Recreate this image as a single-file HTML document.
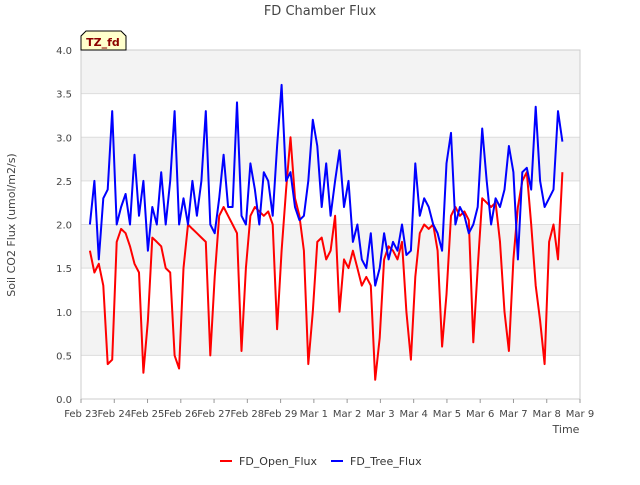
<!DOCTYPE html>
<html><head><meta charset="utf-8"><style>
body{margin:0;background:#fff;font-family:"Liberation Sans","DejaVu Sans",sans-serif;}
</style></head><body>
<svg id="chart" width="640" height="480" viewBox="0 0 640 480" style="font-family:'DejaVu Sans','Liberation Sans',sans-serif">
<text x="320" y="15" text-anchor="middle" font-size="13" fill="#444">FD Chamber Flux</text>
<g id="bands"></g><g id="grid"></g>
<rect x="81" y="50" width="499" height="349" fill="none" stroke="#ccc"/>
<g id="xaxis"></g><g id="yaxis"></g><g id="series"></g>
<text x="15" y="225" transform="rotate(-90 15 225)" text-anchor="middle" font-size="11" fill="#444">Soil CO2 Flux (umol/m2/s)</text>
<text x="566" y="433" text-anchor="middle" font-size="11" fill="#444">Time</text>
<g><path d="M81 50 L81 36 L86 31 L121 31 L126 36 L126 50 Z" fill="#ffffcc" stroke="#000"/><text x="103" y="46" text-anchor="middle" font-size="11" font-weight="bold" fill="#8b0000">TZ_fd</text></g>
<g><line x1="220" y1="461" x2="232" y2="461" stroke="#f00" stroke-width="2"/><text x="239" y="465" font-size="11" fill="#333">FD_Open_Flux</text></g>
<g><line x1="331" y1="461" x2="343" y2="461" stroke="#00f" stroke-width="2"/><text x="350" y="465" font-size="11" fill="#333">FD_Tree_Flux</text></g>
</svg>
<script>
const xTickLabels=["Feb 23","Feb 24","Feb 25","Feb 26","Feb 27","Feb 28","Feb 29","Mar 1","Mar 2","Mar 3","Mar 4","Mar 5","Mar 6","Mar 7","Mar 8","Mar 9"];
const yTickLabels=["0.0","0.5","1.0","1.5","2.0","2.5","3.0","3.5","4.0"];
const tStart=0.268, tStep=0.134;
const openFlux=[1.7,1.45,1.55,1.3,0.4,0.45,1.8,1.95, 1.9,1.75,1.55,1.45,0.3,0.9,1.85,1.8, 1.75,1.5,1.45,0.5,0.35,1.5,2.0,1.95, 1.9,1.85,1.8,0.5,1.4,2.1,2.2,2.1, 2.0,1.9,0.55,1.5,2.1,2.2,2.15,2.1, 2.15,2.0,0.8,1.7,2.4,3.0,2.3,2.1, 1.7,0.4,1.0,1.8,1.85,1.6,1.7,2.1, 1.0,1.6,1.5,1.7,1.5,1.3,1.4,1.3, 0.22,0.7,1.6,1.75,1.7,1.6,1.8,1.0, 0.45,1.4,1.9,2.0,1.95,2.0,1.7,0.6, 1.2,2.1,2.2,2.1,2.15,2.05,0.65,1.5, 2.3,2.25,2.2,2.25,1.8,1.0,0.55,1.6, 2.2,2.5,2.6,2.0,1.3,0.9,0.4,1.8, 2.0,1.6,2.6];
const treeFlux=[2.0,2.5,1.6,2.3,2.4,3.3,2.0,2.2, 2.35,2.0,2.8,2.1,2.5,1.7,2.2,2.0, 2.6,2.0,2.5,3.3,2.0,2.3,2.0,2.5, 2.1,2.5,3.3,2.0,1.9,2.3,2.8,2.2, 2.2,3.4,2.1,2.0,2.7,2.4,2.0,2.6, 2.5,2.1,2.9,3.6,2.5,2.6,2.2,2.05, 2.1,2.5,3.2,2.9,2.2,2.7,2.1,2.5, 2.85,2.2,2.5,1.8,2.0,1.6,1.5,1.9, 1.3,1.5,1.9,1.6,1.8,1.7,2.0,1.65, 1.7,2.7,2.1,2.3,2.2,2.0,1.9,1.7, 2.7,3.05,2.0,2.2,2.1,1.9,2.0,2.2, 3.1,2.5,2.0,2.3,2.2,2.4,2.9,2.6, 1.6,2.6,2.65,2.4,3.35,2.5,2.2,2.3, 2.4,3.3,2.95];
const NS="http://www.w3.org/2000/svg";
const X=t=>81+t*(499/15), Y=v=>399-v*(349/4);
function mk(tag,attrs,parent){const e=document.createElementNS(NS,tag);for(const k in attrs)e.setAttribute(k,attrs[k]);parent.appendChild(e);return e;}
const bands=document.getElementById('bands'),grid=document.getElementById('grid'),xa=document.getElementById('xaxis'),ya=document.getElementById('yaxis'),ser=document.getElementById('series');
for(let i=0;i<8;i++){ if(i%2===1){const b=mk('rect',{x:81,y:Y((i+1)*0.5),width:499,height:Y(i*0.5)-Y((i+1)*0.5),fill:'#f3f3f3'},bands);

}}
yTickLabels.forEach((l,i)=>{const v=parseFloat(l);
const g=mk('line',{x1:81,x2:580,y1:Y(v),y2:Y(v),stroke:'#ddd'},grid);


const t=mk('text',{x:72,y:Y(v)+4,'text-anchor':'end','font-size':10,fill:'#444'},ya);t.textContent=l;

});
xTickLabels.forEach((l,i)=>{
const tk=mk('line',{x1:X(i),x2:X(i),y1:399,y2:403,stroke:'#999'},xa);


const t=mk('text',{x:X(i),y:417,'text-anchor':'middle','font-size':10,fill:'#444'},xa);t.textContent=l;

});
function line(vals,color,name){const d=vals.map((v,i)=>(i?'L':'M')+X(tStart+i*tStep).toFixed(1)+' '+Y(v).toFixed(1)).join(' ');
const p=mk('path',{d:d,fill:'none',stroke:color,'stroke-width':2,'stroke-linejoin':'round'},ser);

}
line(openFlux,'#f00','open-flux-line');
line(treeFlux,'#00f','tree-flux-line');
</script>
</body></html>
